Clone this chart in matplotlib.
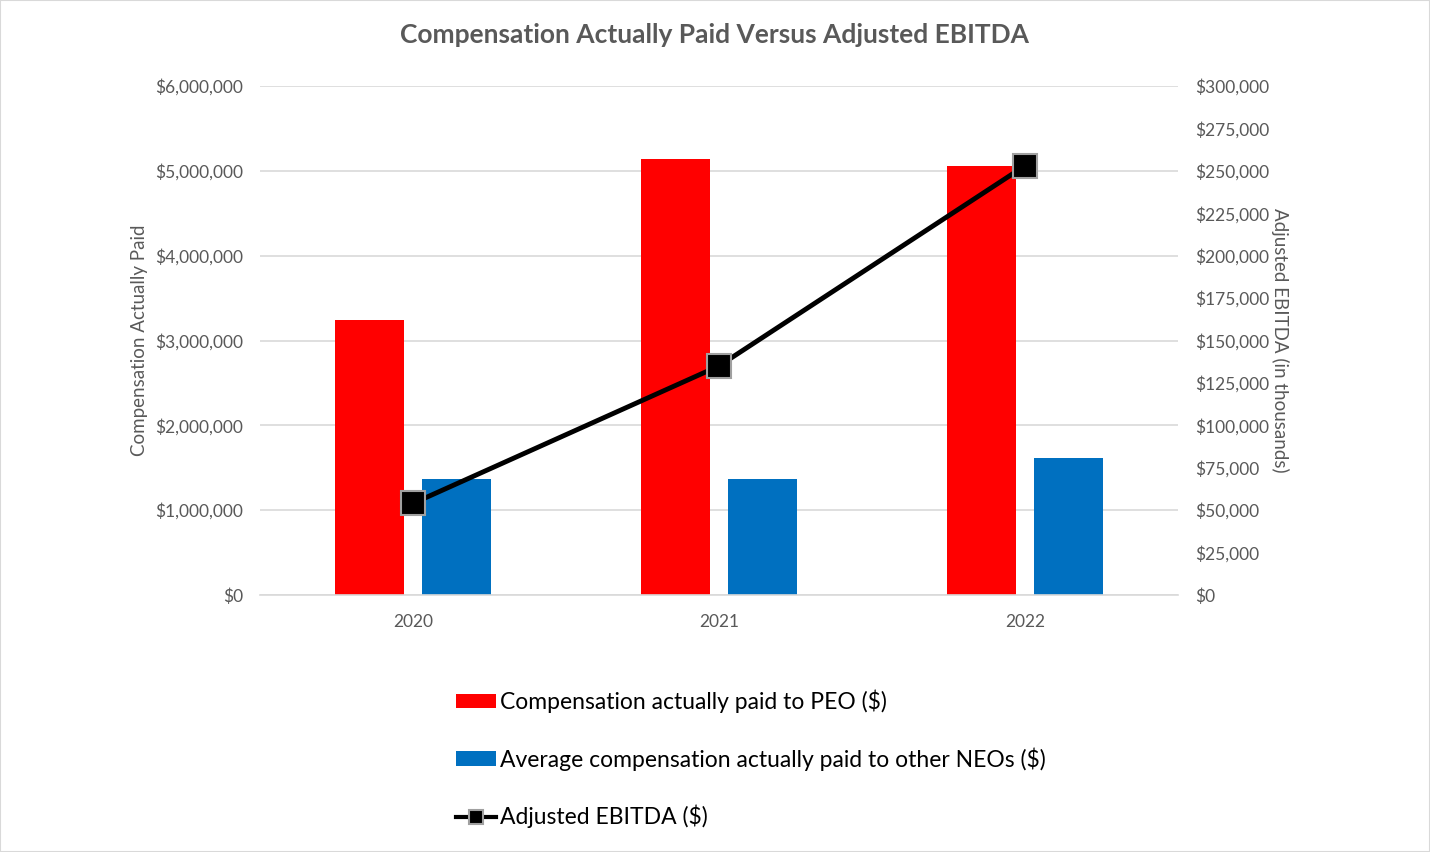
import matplotlib.pyplot as plt
from matplotlib.ticker import FuncFormatter, MultipleLocator
from matplotlib.patches import Rectangle
from matplotlib.lines import Line2D

plt.rcParams['font.family'] = ['Lato', 'DejaVu Sans']

years = ['2020', '2021', '2022']
cap_peo = [3240000, 5140000, 5060000]
cap_neo = [1370000, 1370000, 1620000]
ebitda = [54000, 135000, 253000]

grey = '#595959'

fig = plt.figure(figsize=(14.3, 8.52), dpi=100)
ax = fig.add_axes([260 / 1430, 1 - 595 / 852, 918 / 1430, 509 / 852])
ax2 = ax.twinx()

x = list(range(len(years)))
w = 0.223
off = 0.142
ax.bar([i - off for i in x], cap_peo, width=w, color='#ff0000', zorder=2,
       label='Compensation actually paid to PEO ($)')
ax.bar([i + off for i in x], cap_neo, width=w, color='#0070c0', zorder=2,
       label='Average compensation actually paid to other NEOs ($)')
ax2.plot(x, ebitda, color='black', lw=3.5, marker='s', markersize=17,
         markerfacecolor='black', markeredgecolor='#a0a0a0', markeredgewidth=1.5,
         zorder=3)

ax.set_xlim(-0.5, 2.5)
ax.set_ylim(0, 6000000)
ax2.set_ylim(0, 300000)
ax.yaxis.set_major_locator(MultipleLocator(1000000))
ax2.yaxis.set_major_locator(MultipleLocator(25000))
fmt = FuncFormatter(lambda v, p: '${:,.0f}'.format(v))
ax.yaxis.set_major_formatter(fmt)
ax2.yaxis.set_major_formatter(fmt)
ax.set_xticks(x)
ax.set_xticklabels(years)

ax.grid(axis='y', color='#d9d9d9', lw=1.2, zorder=0)
ax.set_axisbelow(True)
for a in (ax, ax2):
    for s in a.spines.values():
        s.set_visible(False)
    a.tick_params(length=0, labelsize=12.5, labelcolor=grey)
ax.spines['bottom'].set_visible(True)
ax.spines['bottom'].set_color('#d9d9d9')
ax.spines['bottom'].set_linewidth(1.2)
ax.tick_params(axis='y', pad=12)
ax2.tick_params(axis='y', pad=12)
ax.tick_params(axis='x', pad=14)

ax.set_ylabel('Compensation Actually Paid', fontsize=13.5, color=grey)
ax2.set_ylabel('Adjusted EBITDA (in thousands)', fontsize=13.5, color=grey,
               rotation=270)
ax2.yaxis.set_label_coords(1 + 111 / 918, 0.5)
ax.yaxis.set_label_coords(-112 / 918, 0.5)

fig.suptitle('Compensation Actually Paid Versus Adjusted EBITDA', fontsize=19,
             fontweight='bold', color=grey, y=1 - 35 / 852, va='center')

h1, l1 = ax.get_legend_handles_labels()
ebitda_handle = Line2D([], [], color='black', lw=3, marker='s', markersize=10,
                       markerfacecolor='black', markeredgecolor='#a0a0a0',
                       markeredgewidth=1.5)
fig.legend(h1 + [ebitda_handle], l1 + ['Adjusted EBITDA ($)'], loc='upper left',
           bbox_to_anchor=(435 / 1430, 1 - 669 / 852),
           frameon=False, fontsize=16.5, labelspacing=1.49, handlelength=1.75,
           handletextpad=0.2, handleheight=0.6)

fig.patches.append(Rectangle((0, 0), 1, 1, transform=fig.transFigure, fill=False,
                             edgecolor='#d9d9d9', lw=1.5))

fig.savefig('out.png', dpi=100)
